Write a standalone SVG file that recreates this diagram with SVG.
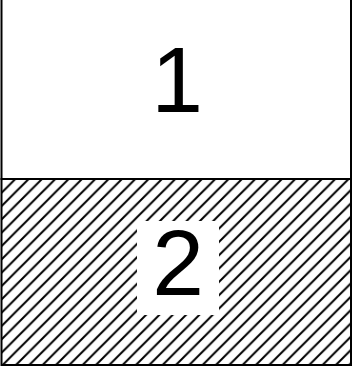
<svg xmlns="http://www.w3.org/2000/svg" width="362" height="383" viewBox="0 0 362 383">
<style>
.lbl{font-family:"Liberation Sans",Arial,sans-serif;font-size:93px;fill:#000;text-anchor:middle}
.hl{stroke:#000;stroke-width:2}
</style>
<defs>
<pattern id="hatch" patternUnits="userSpaceOnUse" width="13.33" height="13.33" x="2" y="179">
<path class="hl" d="M0,13.33 L13.33,0 M-3,3 L3,-3 M10.33,16.33 L16.33,10.33"/>
</pattern>
</defs>
<rect width="362" height="383" fill="#fff"/>
<g id="cell1">
<rect x="1.5" y="-2" width="349.5" height="181" fill="#fff" stroke="#000" stroke-width="2"/>
<text class="lbl" x="177" y="112">1</text>
</g>
<g id="cell2">
<rect x="1.5" y="179" width="349.5" height="186" fill="url(#hatch)" stroke="#000" stroke-width="2"/>
<rect x="137" y="221" width="82" height="94" fill="#fff"/>
<text class="lbl" x="178" y="295">2</text>
</g>
<g id="connectors"/>
</svg>
